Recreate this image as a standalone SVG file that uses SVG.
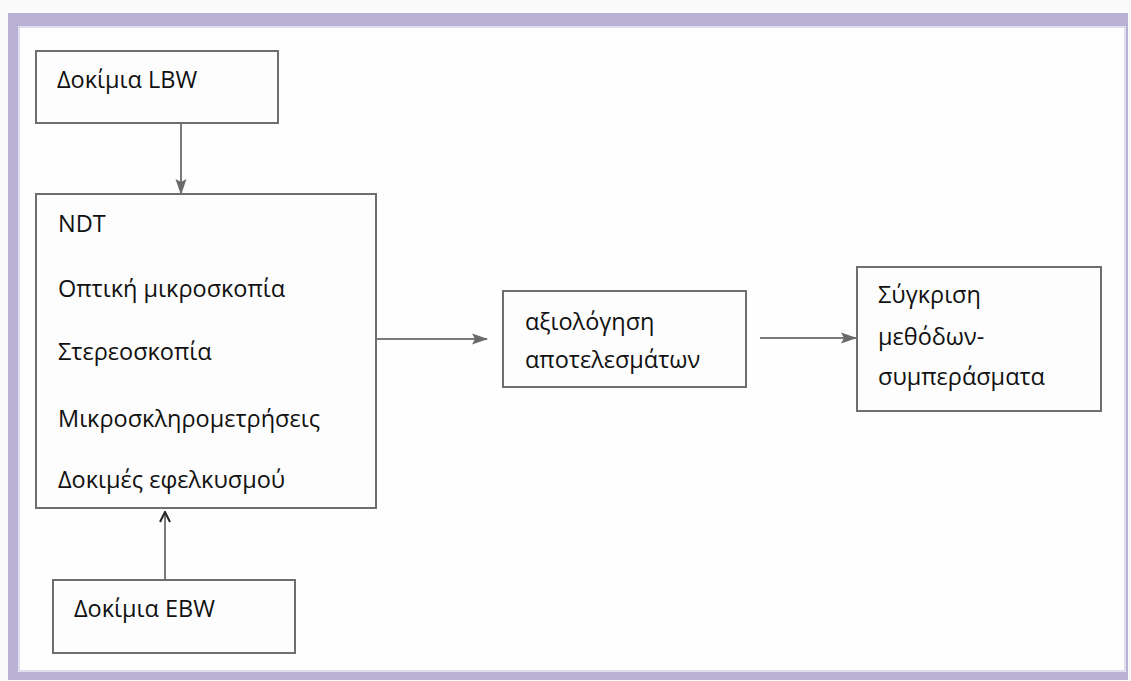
<svg xmlns="http://www.w3.org/2000/svg" width="1131" height="681" viewBox="0 0 1131 681">
<style>
.box{fill:#fdfdfd;stroke:#6e6e6e;stroke-width:2}
.t{font-family:"Open Sans","Liberation Sans",sans-serif;font-size:23.5px;fill:#111}
.c{stroke:#7a7a7a;stroke-width:2;fill:none}
</style>
<defs>
<marker id="ah" markerWidth="16" markerHeight="12" refX="15" refY="6" orient="auto" markerUnits="userSpaceOnUse" viewBox="0 0 16 12">
<path d="M0,0.5 L16,6 L0,11.5 L3,6 Z" fill="#6a6a6a"/>
</marker>
<marker id="ao" markerWidth="12" markerHeight="12" refX="11" refY="6" orient="auto" markerUnits="userSpaceOnUse" viewBox="0 0 12 12">
<path d="M1,1 L11,6 L1,11" fill="none" stroke="#222" stroke-width="2"/>
</marker>
</defs>
<rect x="0" y="0" width="1131" height="681" fill="#fafafa"/>
<g id="frame">
<rect x="8" y="13" width="1120" height="667" fill="#b9b2d6"/>
<rect x="18" y="26" width="1108" height="646" fill="#fefefe"/>
<rect x="19" y="27" width="1106" height="644" fill="none" stroke="#d6d2e8" stroke-width="1.5"/>
</g>
<g id="connectors">
<line class="c" x1="181" y1="123" x2="181" y2="194" marker-end="url(#ah)"/>
<line class="c" x1="165" y1="580" x2="165" y2="512" marker-end="url(#ao)"/>
<line class="c" x1="376" y1="339" x2="487" y2="339" marker-end="url(#ah)"/>
<line class="c" x1="760" y1="338" x2="856" y2="338" marker-end="url(#ah)"/>
</g>
<g id="lbw">
<rect class="box" x="36" y="51" width="242" height="72"/>
<text class="t" x="57" y="88">Δοκίμια LBW</text>
</g>
<g id="methods">
<rect class="box" x="36" y="194" width="340" height="314"/>
<text class="t" x="58" y="232">NDT</text>
<text class="t" x="58" y="297">Οπτική μικροσκοπία</text>
<text class="t" x="58" y="360">Στερεοσκοπία</text>
<text class="t" x="58" y="427">Μικροσκληρομετρήσεις</text>
<text class="t" x="58" y="488">Δοκιμές εφελκυσμού</text>
</g>
<g id="ebw">
<rect class="box" x="53" y="580" width="242" height="73"/>
<text class="t" x="74" y="617">Δοκίμια EBW</text>
</g>
<g id="eval">
<rect class="box" x="503" y="291" width="243" height="96"/>
<text class="t" x="525" y="330">αξιολόγηση</text>
<text class="t" x="525" y="368">αποτελεσμάτων</text>
</g>
<g id="compare">
<rect class="box" x="857" y="267" width="244" height="144"/>
<text class="t" x="878" y="303">Σύγκριση</text>
<text class="t" x="878" y="345">μεθόδων-</text>
<text class="t" x="878" y="385">συμπεράσματα</text>
</g>
</svg>
